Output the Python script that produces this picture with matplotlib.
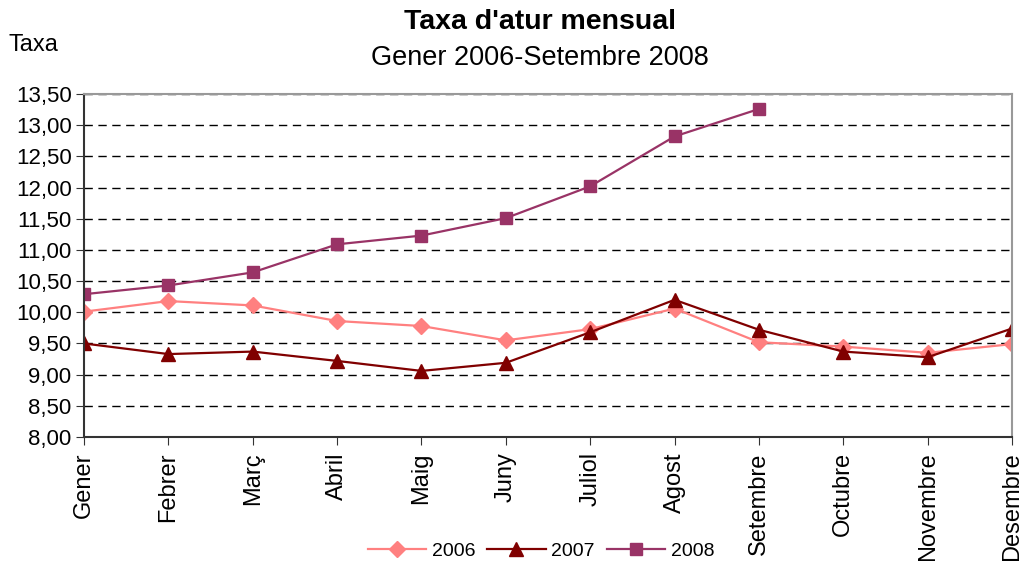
import numpy as np
import matplotlib.pyplot as plt

plt.rcParams['font.family'] = ['Liberation Sans', 'DejaVu Sans']

# Months (Catalan)
mesos = ['Gener', 'Febrer', 'Març', 'Abril', 'Maig', 'Juny', 'Juliol',
         'Agost', 'Setembre', 'Octubre', 'Novembre', 'Desembre']

# Monthly unemployment rate
taxa_2006 = [10.01, 10.18, 10.11, 9.86, 9.78, 9.55, 9.73, 10.06, 9.52, 9.45, 9.35, 9.49]
taxa_2007 = [9.50, 9.33, 9.37, 9.22, 9.06, 9.19, 9.68, 10.20, 9.72, 9.37, 9.28, 9.74]
taxa_2008 = [10.29, 10.43, 10.64, 11.09, 11.23, 11.51, 12.02, 12.82, 13.26]

yticks = np.arange(8.0, 13.51, 0.5)

fig = plt.figure(figsize=(10.21, 5.61), dpi=100)
ax = fig.add_axes([0.0823, 0.221, 0.9089, 0.6114])

x = np.arange(len(mesos))
ax.plot(x, taxa_2006, color='#FF8080', lw=1.6, marker='D', ms=8.5, label='2006')
ax.plot(x, taxa_2007, color='#800000', lw=1.6, marker='^', ms=10.5, label='2007')
ax.plot(x[:len(taxa_2008)], taxa_2008, color='#993366', lw=1.6, marker='s', ms=9, label='2008')

ax.set_xlim(0, len(mesos) - 1)
ax.set_ylim(8.0, 13.5)
ax.set_yticks(yticks)
ax.set_yticklabels([f'{v:.2f}'.replace('.', ',') for v in yticks], fontsize=16)
ax.set_xticks(x)
ax.set_xticklabels(mesos, rotation=90, fontsize=17)
ax.tick_params(axis='both', direction='out', length=6, color='#333333', pad=3)
ax.tick_params(axis='x', pad=5)
ax.yaxis.grid(True, linestyle=(0, (6, 4)), color='black', lw=1)
ax.set_axisbelow(True)
ax.margins(x=0)

for s in ['top', 'right']:
    ax.spines[s].set_color('#999999')
    ax.spines[s].set_linewidth(1.5)
for s in ['left', 'bottom']:
    ax.spines[s].set_color('#333333')
    ax.spines[s].set_linewidth(1.5)

fig.text(0.529, 0.96, "Taxa d'atur mensual", ha='center', va='center',
         fontsize=20.5, fontweight='bold')
fig.text(0.529, 0.897, 'Gener 2006-Setembre 2008', ha='center', va='center', fontsize=19.5)
fig.text(0.008, 0.92, 'Taxa', ha='left', va='center', fontsize=17)

fig.legend(loc='center', bbox_to_anchor=(0.53, 0.018), ncol=3, frameon=False,
           fontsize=14, handlelength=3, columnspacing=0.6, handletextpad=0.3)

fig.savefig('out.png', dpi=100)
